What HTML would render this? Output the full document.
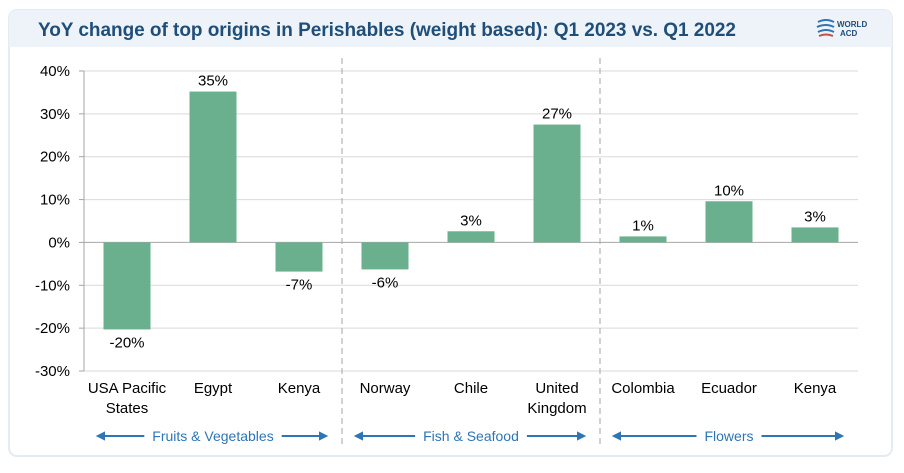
<!DOCTYPE html>
<html><head><meta charset="utf-8"><style>
body{margin:0;background:#fff;width:904px;height:468px;overflow:hidden;font-family:"Liberation Sans",sans-serif}
</style></head><body>
<svg width="904" height="468">
<rect x="9" y="10" width="883" height="446" rx="8" fill="#fff" stroke="#e4ebf3" stroke-width="2"/>
<path d="M9 47 V18 a8 8 0 0 1 8 -8 H884 a8 8 0 0 1 8 8 V47 Z" fill="#eef3f9"/>
<text x="38" y="36" font-size="19" font-weight="bold" fill="#1f4e79" textLength="698">YoY change of top origins in Perishables (weight based): Q1 2023 vs. Q1 2022</text>
<g>
<path d="M818 22 q8 -4 16 0 M817 27 q9 -4 17 0 M818 32 q8 -4 16 0" stroke="#2e75b6" stroke-width="2" fill="none"/>
<path d="M819 36 q7 -3 14 0" stroke="#c0504d" stroke-width="2" fill="none"/>
<text x="837" y="27" font-size="8" font-weight="bold" fill="#1f4e79">WORLD</text>
<text x="840" y="36" font-size="8" font-weight="bold" fill="#1f4e79">ACD</text>
</g>
<g id="plot"></g>
</svg>
<script>
const categories=["USA Pacific|States","Egypt","Kenya","Norway","Chile","United|Kingdom","Colombia","Ecuador","Kenya"];
const values=[-20.3,35.2,-6.8,-6.3,2.6,27.5,1.4,9.6,3.5];
const valueLabels=["-20%","35%","-7%","-6%","3%","27%","1%","10%","3%"];
const ticks=[40,30,20,10,0,-10,-20,-30];
const tickLabels=["40%","30%","20%","10%","0%","-10%","-20%","-30%"];
const groups=["Fruits & Vegetables","Fish & Seafood","Flowers"];
const NS="http://www.w3.org/2000/svg",g=document.getElementById('plot');
const x0=84,x1=858,yTop=71,yBot=371,vMax=40,vMin=-30;
const y=v=>yTop+(vMax-v)/(vMax-vMin)*(yBot-yTop);
const bw=(x1-x0)/categories.length;
const cx=i=>x0+bw*(i+0.5);
function el(t,a,txt){const e=document.createElementNS(NS,t);for(const k in a)e.setAttribute(k,a[k]);if(txt!=null)e.textContent=txt;g.appendChild(e);return e;}
ticks.forEach((t,i)=>{
 const l=el('line',{x1:x0,x2:x1,y1:y(t),y2:y(t),stroke:t===0?'#a6a6a6':'#d9d9d9','stroke-width':1});
 
 
 const tk=el('line',{x1:x0-5,x2:x0,y1:y(t),y2:y(t),stroke:'#a6a6a6'});
 
 
 const tx=el('text',{x:x0-14,y:y(t)+5,'font-size':15,'text-anchor':'end',fill:'#000'},tickLabels[i]);
 
 
});
const ax=el('line',{x1:x0,x2:x0,y1:yTop,y2:yBot,stroke:'#a6a6a6'});


[3,6].forEach(k=>{const d=el('line',{x1:x0+bw*k,x2:x0+bw*k,y1:58,y2:446,stroke:'#a6a6a6','stroke-dasharray':'6,4'});
 
 });
values.forEach((v,i)=>{
 const top=Math.min(y(v),y(0)),h=Math.abs(y(v)-y(0));
 const b=el('rect',{x:cx(i)-23.5,y:top,width:47,height:h,fill:'#6aaf8e'});
 
 
 const ly=v>=0?y(v)-6:y(v)+18;
 const lt=el('text',{x:cx(i),y:ly,'font-size':15,'text-anchor':'middle',fill:'#000'},valueLabels[i]);
 
 
 categories[i].split('|').forEach((p,j)=>{
  const c=el('text',{x:cx(i),y:393+j*20,'font-size':15,'text-anchor':'middle',fill:'#000'},p);
  
  
 });
});
groups.forEach((gname,k)=>{
 const c=x0+bw*(3*k+1.5),yy=436;
 const t=el('text',{x:c,y:yy+5,'font-size':14,'text-anchor':'middle',fill:'#2e75b6'},gname);
 
 
 const hw=t.getComputedTextLength()/2+8;
 const a1=el('path',{d:`M${c-hw} ${yy} H${x0+bw*3*k+14} M${x0+bw*3*k+14} ${yy} l6 -3 v6 z`,stroke:'#2e75b6','stroke-width':2,fill:'#2e75b6'});
 
 
 const e=x0+bw*3*(k+1)-16;
 const a2=el('path',{d:`M${c+hw} ${yy} H${e} M${e} ${yy} l-6 -3 v6 z`,stroke:'#2e75b6','stroke-width':2,fill:'#2e75b6'});
 
 
});
</script>
</body></html>
